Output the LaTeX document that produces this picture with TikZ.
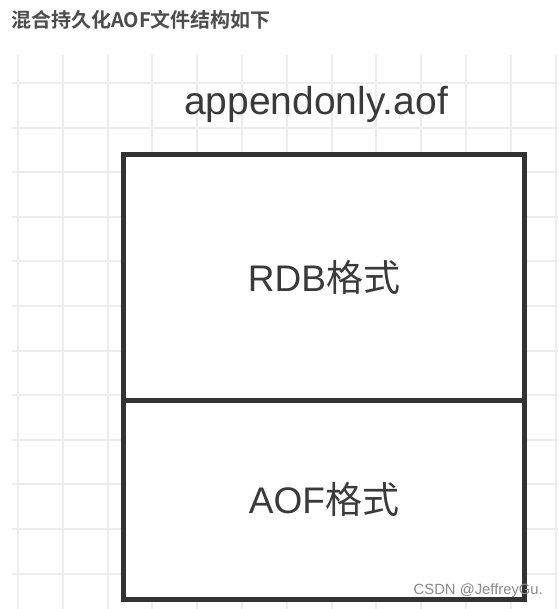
\documentclass[tikz,border=0pt]{standalone}
\usepackage{fontspec}
\setmainfont{Liberation Sans}
\newfontfamily\cjk{Noto Sans CJK SC}
\newfontfamily\cjkbold{Noto Sans CJK SC Bold}
\definecolor{gridc}{HTML}{EDEDED}
\definecolor{boxc}{HTML}{333333}
\definecolor{textc}{HTML}{3A3A3A}
\definecolor{titlec}{HTML}{4D4D4D}
\definecolor{markc}{HTML}{8A8A8A}
\begin{document}
\begin{tikzpicture}[x=1pt,y=-1pt,
  gridline/.style={draw=gridc,line width=2pt},
  part/.style={draw=boxc,line width=5pt,fill=white,rectangle,inner sep=0pt,
    minimum width=401pt,text=textc,font=\fontsize{37}{40}\selectfont},
  label/.style={inner sep=0pt,text=textc}]
\useasboundingbox (0,0) rectangle (558,609);
\fill[white] (0,0) rectangle (558,609);
% background grid
\foreach \i in {0,...,12} {
  \draw[gridline] ({18+44.8*\i},55) -- ({18+44.8*\i},609);
}
\foreach \j in {0,...,11} {
  \draw[gridline] (12,{83+44.6*\j}) -- (558,{83+44.6*\j});
}
% title
\node[anchor=west,inner sep=0pt,text=titlec] (title) at (11,20)
  {\fontsize{20}{22}\selectfont\cjkbold 混合持久化AOF文件结构如下};
% file name
\node[label,font=\fontsize{39}{42}\selectfont] (fname) at (316,104) {appendonly.aof};
% structure
\node[part,minimum height=245.5pt] (rdb) at (324,277.25) {RDB{\cjk 格式}};
\node[part,minimum height=199.5pt] (aof) at (324,499.75) {AOF{\cjk 格式}};
% watermark
\node[anchor=east,inner sep=0pt,text=markc,font=\fontsize{14.8}{16}\selectfont] (mark) at (543,591) {CSDN @JeffreyGu.};
\end{tikzpicture}
\end{document}
